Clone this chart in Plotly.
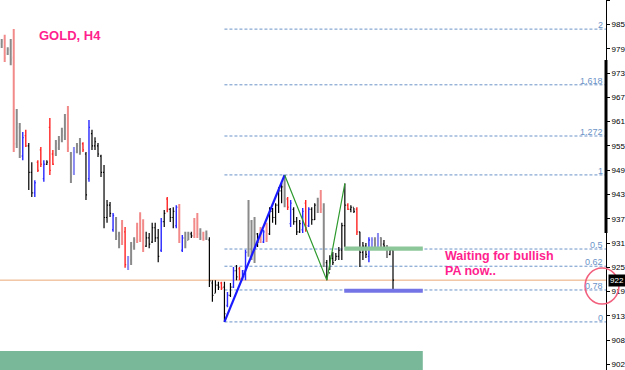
import plotly.graph_objects as go

# ---------------- data ----------------
bar_colors = ["G","LR","G","G","LR","G","G","B","R","K",
              "K","B","R","R","B","K","R","R","G","G",
              "G","G","LR","G","LB","G","G","R","K","B",
              "K","K","K","K","K","K","K","B","G","G",
              "LR","R","LB","G","G","LR","LR","LR","K","K",
              "K","K","K","B","K","R","K","K","B","LR",
              "B","G","G","K","LR","LR","G","LR","G","K",
              "K","K","K","R","K","B","K","B","K","R",
              "B","B","G","G","G","K","LR","B","LR","K",
              "K","K","K","K","G","R","B","K","K","K",
              "B","R","B","K","K","G","LR","G","K","K",
              "K","K","K","K","K","R","K","K","R","K",
              "K","K","B","LB","G","LB","G","K","G","K",
              "K"]
highs = [981.6,982.6,979.6,981.6,984.0,964.5,961.1,958.9,959.4,956.2,
         951.5,947.1,952.0,955.2,952.0,952.0,962.3,954.5,956.9,957.9,
         959.9,963.3,965.2,954.0,955.2,956.2,957.4,956.4,954.0,961.8,
         959.4,957.6,956.2,953.3,950.8,942.3,941.8,939.1,938.1,934.5,
         937.4,935.7,928.6,932.0,933.2,936.7,939.3,937.6,934.5,934.2,
         936.7,936.7,935.2,937.9,939.8,943.0,940.3,940.5,941.0,941.3,
         933.7,934.5,934.5,934.5,937.9,939.1,935.4,934.5,934.8,933.2,
         922.7,922.7,922.3,922.3,922.3,919.8,922.0,925.9,926.4,925.9,
         925.2,930.1,942.3,937.4,938.1,934.2,935.7,935.0,936.7,940.5,
         940.3,941.5,945.4,946.4,948.4,943.0,942.3,940.5,938.1,937.4,
         940.3,942.3,940.5,940.5,941.5,942.8,944.7,941.5,927.6,928.8,
         929.6,929.3,930.8,936.7,946.3,941.5,941.0,940.3,940.5,934.5,
         932.0,931.8,933.2,933.2,933.2,934.2,933.2,932.5,931.3,930.8,
         930.1]
lows = [979.4,976.0,977.7,975.2,954.0,955.0,952.5,952.0,955.2,944.7,
        943.0,943.0,949.1,950.3,946.7,950.8,948.4,950.8,953.0,954.5,
        956.4,956.9,954.0,946.4,948.4,953.7,953.3,954.0,942.3,946.7,
        954.5,954.5,952.8,947.9,935.4,936.7,938.1,934.5,932.5,930.5,
        931.3,925.7,925.2,926.4,930.1,931.8,932.0,929.6,930.8,930.5,
        931.8,932.0,927.1,929.6,935.7,939.3,936.9,935.4,935.4,931.8,
        929.6,930.5,932.5,933.0,933.0,933.0,932.5,932.3,932.5,921.0,
        917.4,919.6,920.3,920.3,912.5,916.1,918.6,920.8,922.7,922.7,
        922.7,922.7,928.4,927.6,926.9,930.8,931.8,931.8,932.0,933.7,
        936.7,936.2,939.1,941.5,940.5,939.8,935.7,936.2,933.7,934.2,
        934.2,934.5,935.7,936.2,937.4,939.1,939.1,925.9,922.7,925.2,
        926.4,927.6,927.6,927.6,930.8,939.8,939.3,939.1,933.7,925.9,
        927.6,928.1,927.1,930.1,930.5,930.1,930.5,930.5,928.1,928.8,
        920.3]
opens = [980.5,981.5,978.0,979.0,977.0,956.0,960.0,953.0,958.0,955.5,
         949.0,944.0,951.5,954.5,947.5,951.0,960.0,953.5,953.5,955.0,
         957.0,958.0,963.0,953.5,949.0,954.0,955.5,956.0,953.5,947.5,
         958.5,955.5,955.5,953.0,949.0,938.0,941.0,935.0,937.5,934.0,
         936.5,934.5,926.0,927.5,931.0,935.5,938.0,936.5,931.0,933.0,
         932.0,935.5,933.0,930.0,937.0,942.5,940.0,938.0,936.0,940.5,
         930.0,933.0,932.5,934.0,937.0,938.0,934.0,934.0,933.0,932.5,
         922.0,919.5,921.5,922.0,921.0,916.5,919.0,921.0,925.0,925.5,
         923.0,923.5,929.5,937.0,929.0,934.0,935.0,932.0,936.0,934.0,
         939.5,938.0,941.0,944.5,945.5,942.5,936.5,940.0,937.0,934.5,
         935.0,941.5,936.0,940.0,937.5,941.0,944.0,940.0,927.0,924.5,
         928.0,927.5,928.5,930.0,936.0,941.0,940.0,940.5,940.0,934.5,
         929.5,931.0,928.5,931.0,932.5,931.0,933.0,931.5,931.0,929.0,
         930.0]
closes = [981.0,977.0,979.0,976.5,956.0,961.0,954.0,957.5,955.5,949.0,
          944.0,946.5,949.5,951.0,951.0,951.5,949.5,951.0,956.0,957.0,
          959.0,962.0,955.0,948.0,954.0,955.5,954.0,954.5,943.5,960.0,
          955.5,956.5,953.5,949.0,938.0,941.0,939.0,938.5,933.5,931.5,
          932.0,926.5,928.0,931.0,932.5,932.5,933.0,931.0,933.0,931.5,
          935.5,933.0,928.5,937.0,939.0,940.0,938.0,939.5,940.5,933.0,
          933.0,932.0,934.0,933.5,934.0,934.0,933.0,932.8,934.0,922.5,
          919.0,921.5,921.0,920.8,914.5,919.0,921.0,925.0,923.5,923.0,
          925.0,929.5,937.0,929.0,934.0,932.0,932.5,934.5,933.0,939.5,
          938.0,941.0,944.5,945.5,942.0,940.5,941.5,937.0,934.5,936.5,
          939.5,935.5,940.0,937.5,941.0,942.0,940.0,927.0,924.0,928.0,
          927.0,928.5,930.0,936.0,941.0,940.0,940.5,939.5,934.5,929.5,
          931.0,929.0,932.5,932.5,931.5,933.5,931.5,931.0,929.0,930.0,
          922.7]

# zigzag pivots (bar index, price)
blue_leg_idx = [74, 94]
blue_leg_px = [912.5, 948.4]
green_leg_idx = [94, 108, 114]
green_leg_px = [948.4, 922.7, 946.3]

fib_names = ["2", "1.618", "1.272", "1", "0.5", "0.62", "0.78", "0"]
fib_levels = [984.0, 970.4, 957.9, 948.4, 930.3, 926.1, 920.3, 912.5]
fib_start_idx = 74

current_price = 922.7
price_label = "922"

tick_vals = [902.1, 908.03, 913.96, 919.89, 925.82, 931.75, 937.68, 943.61,
             949.54, 955.47, 961.4, 967.33, 973.26, 979.19, 985.12, 991.05]
tick_text = ["902", "908", "913", "919", "925", "931", "937", "943",
             "949", "955", "961", "967", "973", "979", "985", "991"]

# ---------------- figure ----------------
W, H = 625, 370
PW = 609  # plot area width in px
x_range = [-0.56, 200.76]
y_range = [900.76, 991.11]

color_map = {"K": ("#000000", 1.2), "G": ("#8a8a8a", 2.0), "R": ("#ff2424", 1.4),
             "LR": ("#f28a8a", 2.0), "B": ("#2828ff", 1.4), "LB": ("#8a8af2", 2.0)}

fig = go.Figure()

shapes = []
shapes.append(dict(type="rect", xref="x", yref="y", x0=x_range[0], x1=139.9,
                   y0=899.0, y1=905.4, fillcolor="#7ab89a", line=dict(width=0),
                   layer="below"))
for lv in fib_levels:
    shapes.append(dict(type="line", xref="x", yref="y", x0=fib_start_idx, x1=x_range[1],
                       y0=lv, y1=lv, line=dict(color="#6b93c8", width=1, dash="3px,2px"),
                       layer="below"))
shapes.append(dict(type="line", xref="x", yref="y", x0=x_range[0], x1=x_range[1],
                   y0=current_price, y1=current_price,
                   line=dict(color="#eaa878", width=1), layer="below"))
shapes.append(dict(type="rect", xref="x", yref="y", x0=113.8, x1=139.9,
                   y0=929.9, y1=930.9, fillcolor="#8cc79a", line=dict(width=0)))
shapes.append(dict(type="rect", xref="x", yref="y", x0=113.8, x1=139.9,
                   y0=919.6, y1=920.6, fillcolor="#7474e6", line=dict(width=0)))
# thick axis segment
shapes.append(dict(type="line", xref="paper", yref="paper", x0=1.0, x1=1.0,
                   y0=1 - 233 / H, y1=1 - 60 / H, line=dict(color="#000000", width=3)))
# hand-drawn circle
shapes.append(dict(type="circle", xref="paper", yref="paper",
                   x0=588 / PW, x1=622 / PW, y0=1 - 304 / H, y1=1 - 268 / H,
                   line=dict(color="#f2607e", width=1.6)))

for code, (col, w) in color_map.items():
    idx = [i for i, c in enumerate(bar_colors) if c == code]
    if not idx:
        continue
    fig.add_trace(go.Ohlc(
        x=idx,
        open=[opens[i] for i in idx], high=[highs[i] for i in idx],
        low=[lows[i] for i in idx], close=[closes[i] for i in idx],
        increasing=dict(line=dict(color=col, width=w)),
        decreasing=dict(line=dict(color=col, width=w)),
        tickwidth=0.35, hoverinfo="skip", showlegend=False))

fig.add_trace(go.Scatter(x=blue_leg_idx, y=blue_leg_px, mode="lines",
                         line=dict(color="#1a1aff", width=2.2), showlegend=False,
                         hoverinfo="skip"))
fig.add_trace(go.Scatter(x=green_leg_idx, y=green_leg_px, mode="lines",
                         line=dict(color="#2e9a2e", width=1.2), showlegend=False,
                         hoverinfo="skip"))

annotations = []
for name, lv in zip(fib_names, fib_levels):
    annotations.append(dict(xref="paper", yref="y", x=607 / PW, y=lv, text=name,
                            showarrow=False, xanchor="right", yanchor="bottom",
                            yshift=-2, borderpad=0,
                            font=dict(family="Liberation Sans", size=9, color="#6b93c8")))
annotations.append(dict(xref="paper", yref="y", x=611 / PW, y=current_price,
                        text=price_label, showarrow=False, xanchor="left",
                        yanchor="middle", bgcolor="#000000", borderpad=1,
                        font=dict(family="Liberation Sans", size=8, color="#ffffff")))
annotations.append(dict(xref="paper", yref="paper", x=37 / PW, y=1 - 35 / H,
                        text="<b>GOLD, H4</b>", showarrow=False, xanchor="left",
                        yanchor="middle",
                        font=dict(family="Liberation Sans", size=13, color="#ff1f8e")))
annotations.append(dict(xref="paper", yref="paper", x=445 / PW, y=1 - 256 / H,
                        text="<b>Waiting for bullish</b>", showarrow=False,
                        xanchor="left", yanchor="middle",
                        font=dict(family="Liberation Sans", size=12.5, color="#ff1f8e")))
annotations.append(dict(xref="paper", yref="paper", x=445 / PW, y=1 - 271 / H,
                        text="<b>PA now..</b>", showarrow=False,
                        xanchor="left", yanchor="middle",
                        font=dict(family="Liberation Sans", size=12.5, color="#ff1f8e")))

fig.update_layout(
    width=W, height=H,
    margin=dict(l=0, r=W - PW, t=0, b=0),
    paper_bgcolor="#ffffff", plot_bgcolor="#ffffff",
    shapes=shapes, annotations=annotations,
    xaxis=dict(range=x_range, showgrid=False, zeroline=False, showticklabels=False,
               showline=False, ticks="", rangeslider=dict(visible=False),
               fixedrange=True),
    yaxis=dict(range=y_range, side="right", showgrid=False, zeroline=False,
               tickvals=tick_vals, ticktext=tick_text, ticks="outside", ticklen=3,
               tickcolor="#000000", showline=True, linecolor="#000000", linewidth=1,
               tickfont=dict(family="Liberation Sans", size=8, color="#000000"),
               fixedrange=True),
)

fig.write_html("out.html")
